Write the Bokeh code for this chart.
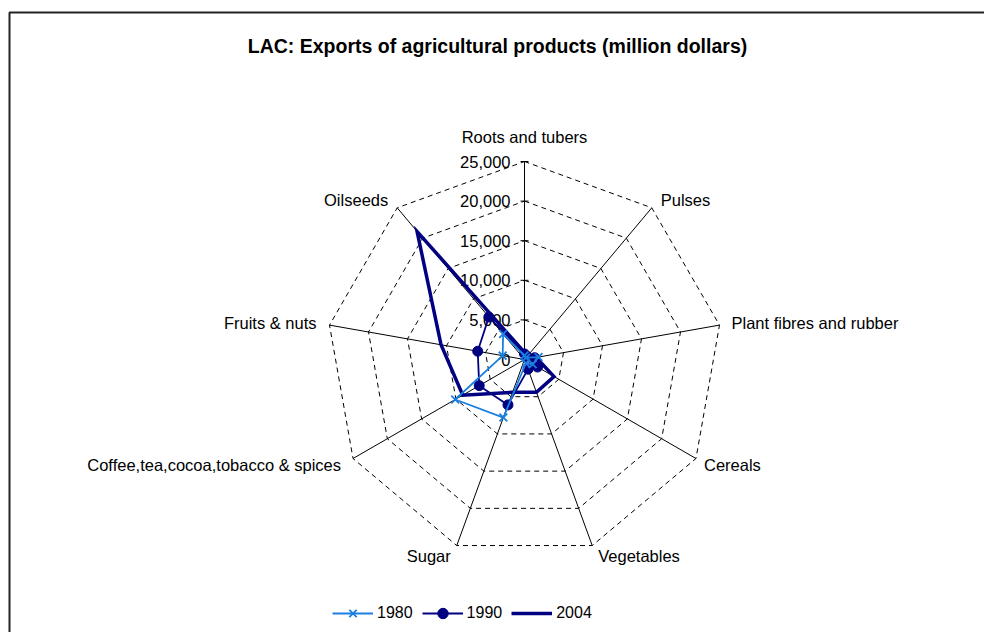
import numpy as np
from bokeh.plotting import figure
from bokeh.models import Range1d, Legend, LegendItem
from bokeh.embed import file_html
from bokeh.resources import INLINE
from bokeh.core.properties import value

# ---------------- data ----------------
categories = ["Roots and tubers", "Pulses", "Plant fibres and rubber", "Cereals",
              "Vegetables", "Sugar", "Coffee,tea,cocoa,tobacco & spices",
              "Fruits & nuts", "Oilseeds"]
v1980 = [500, 300, 1800, 1200, 500, 7800, 10100, 2800, 4200]
v1990 = [700, 500, 1300, 1900, 1300, 6100, 6600, 6000, 7000]
v2004 = [900, 700, 1500, 4300, 4400, 4400, 9000, 10700, 21100]
series_names = ["1980", "1990", "2004"]
tick_values = [0, 5000, 10000, 15000, 20000, 25000]
tick_labels = ["0", "5,000", "10,000", "15,000", "20,000", "25,000"]
title_text = "LAC: Exports of agricultural products (million dollars)"

# ---------------- layout ----------------
W, H = 984, 632
CX, CY = 524, 359          # centre of the radar in pixels
RMAX_PX = 198.0            # pixel radius of the outer ring
RMAX = tick_values[-1]
K = RMAX / RMAX_PX         # data units per pixel

FONT = "Liberation Sans"
C1980 = "#1a7fe0"
NAVY = "#000080"

p = figure(width=W, height=H,
           x_range=Range1d(-CX * K, (W - CX) * K),
           y_range=Range1d(-(H - CY) * K, CY * K),
           output_backend="svg", toolbar_location=None,
           x_axis_location=None, y_axis_location=None,
           min_border=0, outline_line_color=None)
p.grid.visible = False
p.background_fill_color = "white"
p.border_fill_color = "white"

n = len(categories)
theta = np.radians(90 - 360.0 / n * np.arange(n))
cs, sn = np.cos(theta), np.sin(theta)

def px(xp):
    return (xp - CX) * K

def py(yp):
    return (CY - yp) * K

# outer frame (only top and left visible in the picture)
p.line([px(9), px(9), px(W + 5)], [py(H + 5), py(12), py(12)],
       line_color="#222222", line_width=2)

# title
p.text(x=[px(497)], y=[py(45)], text=[title_text], text_font=value(FONT),
       text_font_size="19.5px", text_font_style="bold", text_align="center",
       text_baseline="middle", text_color="black")

# dashed rings
for t in tick_values[1:]:
    xs = list(t * cs) + [t * cs[0]]
    ys = list(t * sn) + [t * sn[0]]
    p.line(xs, ys, line_color="black", line_width=1, line_dash="5 4")

# spokes
p.segment(x0=np.zeros(n), y0=np.zeros(n), x1=RMAX * cs, y1=RMAX * sn,
          line_color="black", line_width=1)

# tick marks and tick labels on the top axis
tv = np.array(tick_values, dtype=float)
p.segment(x0=np.full(len(tv), -4 * K), y0=tv, x1=np.full(len(tv), 4 * K), y1=tv,
          line_color="black", line_width=1)
p.text(x=np.full(len(tv), -14 * K), y=tv, text=tick_labels, text_font=value(FONT),
       text_font_size="16.5px", text_align="right", text_baseline="middle",
       text_color="black")

# category labels
label_style = [  # (dx px, dy px, align)
    (0, -25, "center"), (9, -8, "left"), (12, -2, "left"), (8, 6, "left"),
    (6, 10, "left"), (-6, 10, "right"), (-12, 6, "right"), (-13, -2, "right"),
    (-9, -8, "right")]
for i, cat in enumerate(categories):
    dx, dy, al = label_style[i]
    p.text(x=[RMAX * cs[i]], y=[RMAX * sn[i]], text=[cat], x_offset=dx, y_offset=dy,
           text_font=value(FONT), text_font_size="16.5px", text_align=al,
           text_baseline="middle", text_color="black")

def closed(vals):
    v = np.array(vals, dtype=float)
    xs = v * cs
    ys = v * sn
    return np.append(xs, xs[0]), np.append(ys, ys[0]), xs, ys

# series
x4, y4, _, _ = closed(v2004)
r2004 = p.line(x4, y4, line_color=NAVY, line_width=3.5, line_join="miter")

x9, y9, mx9, my9 = closed(v1990)
r1990l = p.line(x9, y9, line_color=NAVY, line_width=1.8)
r1990m = p.scatter(mx9, my9, marker="circle", size=10, fill_color=NAVY, line_color=NAVY)

x8, y8, mx8, my8 = closed(v1980)
r1980l = p.line(x8, y8, line_color=C1980, line_width=1.8)
r1980m = p.scatter(mx8, my8, marker="x", size=11, line_color=C1980, line_width=1.8)

legend = Legend(items=[
    LegendItem(label=series_names[0], renderers=[r1980l, r1980m]),
    LegendItem(label=series_names[1], renderers=[r1990l, r1990m]),
    LegendItem(label=series_names[2], renderers=[r2004]),
], orientation="horizontal", location=(332, 6), glyph_width=41, glyph_height=26,
   label_standoff=4, spacing=9, padding=0, margin=0, border_line_alpha=0,
   background_fill_alpha=0, label_text_font=FONT, label_text_font_size="16px",
   label_text_color="black", label_height=26)
p.add_layout(legend)

open("out.html", "w").write(file_html(p, INLINE))
